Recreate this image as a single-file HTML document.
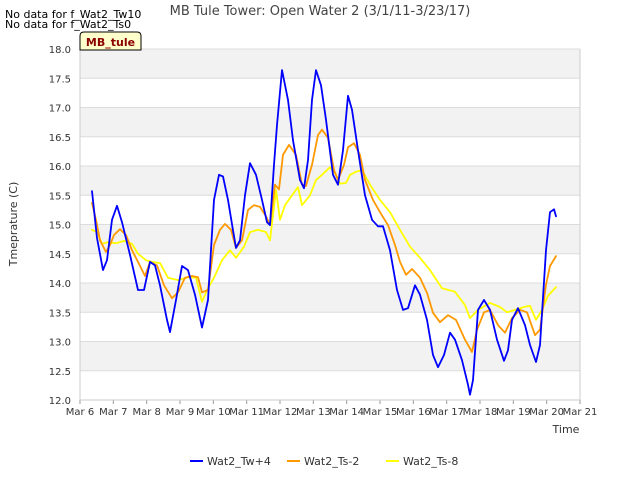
<!DOCTYPE html>
<html><head><meta charset="utf-8"><style>
body{margin:0;background:#fff;font-family:"Liberation Sans","DejaVu Sans",sans-serif;}
svg text{font-family:"DejaVu Sans","Liberation Sans",sans-serif;}
</style></head><body>
<svg id="chart" width="640" height="480" viewBox="0 0 640 480" xmlns="http://www.w3.org/2000/svg">
<rect width="640" height="480" fill="#fff"/>
<g id="bands"></g>
<g id="grid"></g>
<g id="axes"></g>
<g id="series"></g>
<text x="320" y="15" text-anchor="middle" font-size="13" fill="#444">MB Tule Tower: Open Water 2 (3/1/11-3/23/17)</text>
<text x="5" y="18" font-size="11" fill="#000">No data for f_Wat2_Tw10</text>
<text x="5" y="28" font-size="11" fill="#000">No data for f_Wat2_Ts0</text>
<g>
<path d="M80,50 L80,36 Q80,32 84,32 L137,32 Q141,32 141,36 L141,50 Z" fill="#ffffcc" stroke="#000" stroke-width="1"/>
<text x="110.5" y="46" text-anchor="middle" font-size="11" font-weight="bold" fill="#8b0000">MB_tule</text>
</g>
<text x="566" y="433" text-anchor="middle" font-size="11" fill="#333">Time</text>
<text x="17" y="224" text-anchor="middle" font-size="11" fill="#333" transform="rotate(-90 17 224)">Tmeprature (C)</text>
<g id="legend"></g>
</svg>
<script>
const xTickLabels=["Mar 6","Mar 7","Mar 8","Mar 9","Mar 10","Mar 11","Mar 12","Mar 13","Mar 14","Mar 15","Mar 16","Mar 17","Mar 18","Mar 19","Mar 20","Mar 21"];
const yTickValues=[12.0,12.5,13.0,13.5,14.0,14.5,15.0,15.5,16.0,16.5,17.0,17.5,18.0];
const seriesNames=["Wat2_Tw+4","Wat2_Ts-2","Wat2_Ts-8"];
const seriesColors=["#0000ff","#ff9900","#ffff00"];
const twDays=[0.36,0.51,0.69,0.81,0.96,1.11,1.26,1.5,1.74,1.92,2.1,2.25,2.4,2.61,2.7,2.88,3.06,3.24,3.45,3.66,3.84,4.02,4.17,4.29,4.44,4.59,4.68,4.8,4.95,5.1,5.28,5.46,5.61,5.7,5.82,5.91,6.06,6.24,6.39,6.6,6.72,6.84,6.96,7.08,7.23,7.38,7.59,7.74,7.89,8.04,8.16,8.34,8.55,8.76,8.94,9.09,9.3,9.51,9.69,9.84,10.05,10.2,10.41,10.59,10.74,10.92,11.1,11.25,11.46,11.64,11.7,11.79,11.94,12.12,12.3,12.51,12.72,12.84,12.96,13.14,13.35,13.5,13.68,13.8,13.98,14.1,14.22,14.28];
const twVals=[15.57,14.77,14.22,14.39,15.08,15.32,15.04,14.48,13.88,13.88,14.36,14.3,13.96,13.37,13.16,13.71,14.29,14.22,13.8,13.24,13.71,15.42,15.85,15.82,15.42,14.9,14.6,14.73,15.5,16.05,15.85,15.42,15.04,14.99,16.02,16.7,17.64,17.13,16.44,15.76,15.62,16.1,17.13,17.64,17.38,16.79,15.85,15.68,16.27,17.2,16.96,16.27,15.5,15.08,14.97,14.97,14.56,13.88,13.54,13.57,13.96,13.8,13.37,12.77,12.56,12.77,13.15,13.03,12.68,12.26,12.09,12.34,13.54,13.71,13.54,13.03,12.67,12.85,13.37,13.57,13.28,12.94,12.65,12.94,14.56,15.21,15.26,15.14];
const ts2Days=[0.36,0.48,0.6,0.78,0.9,1.02,1.2,1.38,1.56,1.74,1.95,2.1,2.31,2.52,2.76,2.94,3.15,3.36,3.54,3.66,3.84,4.02,4.2,4.35,4.53,4.68,4.86,5.04,5.22,5.4,5.58,5.7,5.85,5.97,6.09,6.27,6.48,6.66,6.78,6.96,7.14,7.26,7.44,7.62,7.74,7.92,8.04,8.22,8.4,8.55,8.79,9.0,9.24,9.45,9.6,9.78,9.96,10.2,10.41,10.59,10.8,11.04,11.28,11.55,11.76,11.91,12.12,12.3,12.54,12.75,12.96,13.2,13.41,13.65,13.8,13.98,14.1,14.28];
const ts2Vals=[15.37,15.08,14.73,14.53,14.65,14.82,14.92,14.82,14.56,14.36,14.12,14.36,14.3,13.96,13.74,13.84,14.09,14.12,14.1,13.84,13.88,14.65,14.91,15.01,14.91,14.6,14.73,15.25,15.33,15.3,15.14,14.99,15.68,15.6,16.19,16.36,16.19,15.68,15.66,16.02,16.53,16.62,16.48,15.93,15.76,16.02,16.32,16.39,16.19,15.76,15.42,15.21,14.99,14.65,14.36,14.14,14.24,14.09,13.83,13.49,13.33,13.45,13.37,13.03,12.82,13.2,13.5,13.54,13.28,13.15,13.4,13.54,13.5,13.11,13.2,13.97,14.29,14.46];
const ts8Days=[0.36,0.51,0.66,0.84,1.08,1.32,1.56,1.74,1.98,2.16,2.4,2.64,2.94,3.24,3.48,3.66,3.84,4.02,4.26,4.5,4.68,4.92,5.1,5.34,5.58,5.7,5.88,6.0,6.15,6.36,6.54,6.66,6.9,7.08,7.26,7.5,7.68,7.8,7.98,8.1,8.28,8.46,8.7,9.0,9.3,9.6,9.9,10.2,10.5,10.86,11.25,11.55,11.7,11.94,12.3,12.6,12.81,13.05,13.32,13.5,13.68,13.86,14.04,14.28];
const ts8Vals=[14.91,14.87,14.67,14.7,14.68,14.72,14.67,14.5,14.39,14.36,14.34,14.09,14.05,14.1,14.09,13.68,13.91,14.09,14.39,14.56,14.43,14.62,14.87,14.91,14.87,14.73,15.59,15.08,15.33,15.5,15.64,15.33,15.5,15.76,15.85,15.98,15.85,15.7,15.71,15.85,15.9,15.93,15.68,15.42,15.21,14.91,14.62,14.43,14.22,13.91,13.85,13.62,13.4,13.54,13.66,13.59,13.5,13.54,13.59,13.61,13.37,13.54,13.78,13.93];

const NS="http://www.w3.org/2000/svg";
const L=80,R=580,T=49,B=400,yMin=12,yMax=18,dMax=15;
const xs=d=>L+(R-L)*d/dMax;
const ys=v=>B-(B-T)*(v-yMin)/(yMax-yMin);
function mk(tag,attrs,parent){const e=document.createElementNS(NS,tag);for(const k in attrs)e.setAttribute(k,attrs[k]);parent.appendChild(e);return e;}
const bands=document.getElementById('bands'),grid=document.getElementById('grid'),axes=document.getElementById('axes'),series=document.getElementById('series'),legend=document.getElementById('legend');
mk('rect',{x:L,y:T,width:R-L,height:B-T,fill:'#fff'},bands);
for(let i=0;i<yTickValues.length-1;i++){
  const lo=yTickValues[i],hi=yTickValues[i+1];
  if((yTickValues.length-2-i)%2===0){
    const r=mk('rect',{x:L,y:ys(hi),width:R-L,height:ys(lo)-ys(hi),fill:'#f2f2f2'},bands);
    
    
  }
}
yTickValues.forEach(v=>{
  const y=ys(v);
  const g=mk('line',{x1:L,x2:R,y1:y,y2:y,stroke:'#dcdcdc','stroke-width':1},grid);
  
  
  const t=mk('text',{x:L-9,y:y+4,'text-anchor':'end','font-size':10,fill:'#333'},axes);
  t.textContent=v.toFixed(1);
  
  
});
xTickLabels.forEach((lab,i)=>{
  const x=xs(i);
  mk('line',{x1:x,x2:x,y1:B,y2:B+4,stroke:'#999'},axes);
  const t=mk('text',{x:x,y:B+15,'text-anchor':'middle','font-size':10,fill:'#333'},axes);
  t.textContent=lab;
  
  
});
mk('line',{x1:L,x2:L,y1:T,y2:B,stroke:'#ccc'},axes);
mk('line',{x1:R,x2:R,y1:T,y2:B,stroke:'#ccc'},axes);
mk('line',{x1:L,x2:R,y1:B,y2:B,stroke:'#ccc'},axes);
const allDays=[twDays,ts2Days,ts8Days],allVals=[twVals,ts2Vals,ts8Vals];
[2,1,0].forEach(si=>{
  const pts=allDays[si].map((d,i)=>xs(d).toFixed(1)+','+ys(allVals[si][i]).toFixed(1)).join(' ');
  const p=mk('polyline',{points:pts,fill:'none',stroke:seriesColors[si],'stroke-width':1.8,'stroke-linejoin':'round','stroke-linecap':'round'},series);
  
  
});
const legX=[190,287,386];
seriesNames.forEach((n,i)=>{
  const g=mk('g',{},legend);
  
  
  mk('line',{x1:legX[i],x2:legX[i]+13,y1:461,y2:461,stroke:seriesColors[i],'stroke-width':2},g);
  const t=mk('text',{x:legX[i]+17,y:465,'font-size':11,fill:'#333'},g);
  t.textContent=n;
});
</script>
</body></html>
